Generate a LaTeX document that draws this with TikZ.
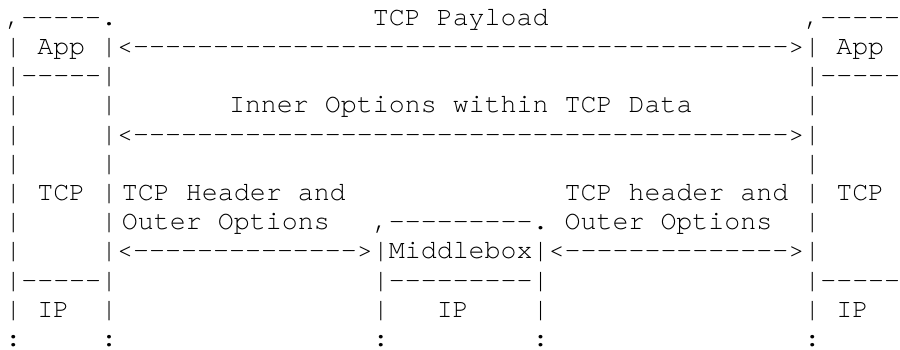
\documentclass[tikz,border=0pt]{standalone}
\usepackage{fontspec}
\setmonofont{texgyrecursor-regular.otf}

\newcommand\dashes[1]{\foreach \i in {1,...,#1}{-}}

\tikzset{%
  % Specifications for style of nodes:
  ascii/.style = {
    anchor=base west,
    inner sep=0pt,
    outer sep=0pt,
    font=\ttfamily\fontsize{13.32pt}{14.6pt}\selectfont
  },
}

\begin{document}
\begin{tikzpicture}[x=7.99pt, y=-14.6pt]
  \fill[white] (-2.65pt,-1.93pt) rectangle (447.35pt,-176.43pt);
  \useasboundingbox (-2.65pt,-1.93pt) rectangle (447.35pt,-176.43pt);
  % App layer
  \node[ascii] (app_top_l) at (0,1) {,-----.};
  \node[ascii] (payload) at (23,1) {TCP Payload};
  \node[ascii] (app_top_r) at (50,1) {,-----};
  \node[ascii] (app_l) at (0,2) {| App |};
  \node[ascii] (payload_arrow) at (7,2) {<\dashes{41}>};
  \node[ascii] (app_r) at (50,2) {| App};
  \node[ascii] (app_sep_l) at (0,3) {|-----|};
  \node[ascii] (app_sep_r) at (50,3) {|-----};
  % TCP layer
  \node[ascii] (inner) at (14,4) {Inner Options within TCP Data};
  \node[ascii] (inner_arrow) at (6,5) {|<\dashes{41}>|};
  \node[ascii] (tcp_l) at (0,7) {| TCP |};
  \node[ascii] (hdr_l) at (7.3,7) {TCP Header and};
  \node[ascii] (hdr_r) at (35,7) {TCP header and};
  \node[ascii] (tcp_r) at (50,7) {| TCP};
  \node[ascii] (outer_l) at (7.3,8) {Outer Options};
  \node[ascii] (mb_top) at (23,8) {,---------.};
  \node[ascii] (outer_r) at (35,8) {Outer Options};
  \node[ascii] (outer_arrow_l) at (6,9) {|<\dashes{14}>};
  \node[ascii] (middlebox) at (23,9) {|Middlebox|};
  \node[ascii] (outer_arrow_r) at (34,9) {<\dashes{14}>|};
  % IP layer
  \node[ascii] (ip_sep_l) at (0,10) {|-----|};
  \node[ascii] (mb_sep) at (23,10) {|---------|};
  \node[ascii] (ip_sep_r) at (50,10) {|-----};
  \node[ascii] (ip_l) at (2,11) {IP};
  \node[ascii] (ip_m) at (27,11) {IP};
  \node[ascii] (ip_r) at (50,11) {| IP};
  % single bars and dots
  \foreach \c/\r in {0/4,6/4,50/4,0/5,0/6,6/6,50/6,0/8,6/8,50/8,0/9,0/11,6/11,23/11,33/11}
    \node[ascii] (bar_\c_\r) at (\c,\r) {|};
  \foreach \c in {0,6,23,33,50}
    \node[ascii] (dots_\c) at (\c,12) {:};
\end{tikzpicture}
\end{document}
